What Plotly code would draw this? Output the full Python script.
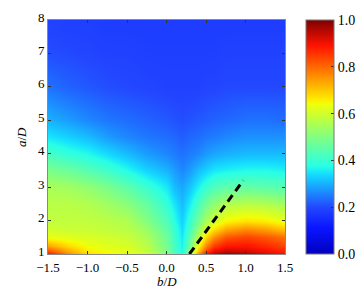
import plotly.graph_objects as go

# grid (b/D columns, a/D rows)
b_vals = [-1.5, -1.25, -1.0, -0.75, -0.5, -0.25, 0.0, 0.1, 0.2, 0.3, 0.4, 0.5, 0.6, 0.75, 1.0, 1.25, 1.5]
a_vals = [1.0, 1.1, 1.25, 1.5, 1.75, 2.0, 2.5, 3.0, 3.5, 4.0, 4.5, 5.0, 6.0, 7.0, 8.0]
z_vals = [
    [0.90, 0.77, 0.68, 0.65, 0.63, 0.60, 0.50, 0.43, 0.37, 0.55, 0.76, 0.90, 0.96, 0.99, 0.97, 0.93, 0.89],
    [0.83, 0.73, 0.66, 0.64, 0.62, 0.58, 0.49, 0.42, 0.37, 0.52, 0.70, 0.84, 0.91, 0.94, 0.93, 0.90, 0.87],
    [0.74, 0.68, 0.64, 0.62, 0.61, 0.57, 0.48, 0.42, 0.36, 0.49, 0.64, 0.77, 0.85, 0.89, 0.89, 0.87, 0.84],
    [0.63, 0.62, 0.61, 0.60, 0.59, 0.55, 0.47, 0.41, 0.35, 0.45, 0.57, 0.68, 0.76, 0.82, 0.84, 0.82, 0.79],
    [0.60, 0.59, 0.59, 0.58, 0.57, 0.53, 0.45, 0.40, 0.34, 0.42, 0.52, 0.61, 0.67, 0.73, 0.76, 0.74, 0.70],
    [0.58, 0.58, 0.58, 0.57, 0.56, 0.50, 0.43, 0.38, 0.33, 0.40, 0.48, 0.55, 0.60, 0.65, 0.67, 0.66, 0.63],
    [0.57, 0.57, 0.56, 0.54, 0.51, 0.46, 0.39, 0.35, 0.31, 0.36, 0.42, 0.48, 0.52, 0.56, 0.57, 0.56, 0.54],
    [0.55, 0.54, 0.52, 0.49, 0.45, 0.40, 0.35, 0.31, 0.29, 0.32, 0.36, 0.40, 0.43, 0.45, 0.46, 0.45, 0.44],
    [0.49, 0.47, 0.44, 0.41, 0.37, 0.33, 0.30, 0.28, 0.26, 0.28, 0.31, 0.33, 0.35, 0.36, 0.37, 0.37, 0.36],
    [0.42, 0.39, 0.37, 0.34, 0.31, 0.28, 0.26, 0.25, 0.24, 0.25, 0.26, 0.28, 0.29, 0.30, 0.31, 0.31, 0.31],
    [0.35, 0.33, 0.31, 0.28, 0.26, 0.245, 0.235, 0.23, 0.22, 0.23, 0.235, 0.245, 0.25, 0.26, 0.27, 0.27, 0.27],
    [0.30, 0.28, 0.26, 0.245, 0.235, 0.225, 0.215, 0.21, 0.205, 0.21, 0.215, 0.22, 0.225, 0.23, 0.24, 0.24, 0.235],
    [0.24, 0.225, 0.215, 0.205, 0.20, 0.195, 0.19, 0.19, 0.19, 0.19, 0.19, 0.195, 0.195, 0.20, 0.20, 0.20, 0.20],
    [0.205, 0.20, 0.195, 0.19, 0.19, 0.185, 0.185, 0.185, 0.185, 0.185, 0.185, 0.185, 0.185, 0.19, 0.19, 0.19, 0.19],
    [0.19, 0.185, 0.185, 0.18, 0.18, 0.18, 0.18, 0.18, 0.18, 0.18, 0.18, 0.18, 0.18, 0.18, 0.18, 0.18, 0.18],
]

# dashed guide line
line_b = [0.29, 0.97]
line_a = [1.0, 3.2]

x_ticks = [-1.5, -1.0, -0.5, 0.0, 0.5, 1.0, 1.5]
y_ticks = [1, 2, 3, 4, 5, 6, 7, 8]
cb_ticks = [0.0, 0.2, 0.4, 0.6, 0.8, 1.0]

# jet-like colour scale as rendered in the reference
colorscale = [
    [0.0, "rgb(0,0,190)"],
    [0.11, "rgb(10,20,255)"],
    [0.2, "rgb(35,72,255)"],
    [0.34, "rgb(20,220,255)"],
    [0.375, "rgb(40,255,230)"],
    [0.5, "rgb(130,255,130)"],
    [0.64, "rgb(240,255,10)"],
    [0.66, "rgb(255,236,0)"],
    [0.89, "rgb(255,19,0)"],
    [1.0, "rgb(127,0,0)"],
]

family = "Liberation Serif, Times New Roman, serif"
tick_font = dict(family=family, size=13, color="black")
title_font = dict(family=family, size=13, color="black")

fig = go.Figure()
fig.add_trace(go.Heatmap(
    x=b_vals, y=a_vals, z=z_vals, zmin=0, zmax=1, zsmooth="best",
    colorscale=colorscale,
    colorbar=dict(
        x=1.089, xanchor="left", y=0.5, yanchor="middle", len=1, lenmode="fraction",
        thickness=28, outlinecolor="#777", outlinewidth=1,
        tickvals=cb_ticks, tickformat=".1f", ticks="inside", ticklen=3,
        tickcolor="#333", tickfont=dict(family=family, size=14, color="black"),
        ypad=0, xpad=0,
    ),
))
fig.add_trace(go.Scatter(
    x=line_b, y=line_a, mode="lines",
    line=dict(color="black", width=3, dash="8px,5px"),
    showlegend=False, hoverinfo="skip",
))

axis_common = dict(
    showgrid=False, zeroline=False, showline=True, linecolor="#888", linewidth=1,
    mirror="ticks", ticks="inside", ticklen=3, tickcolor="#333", tickfont=tick_font,
)
fig.update_layout(
    width=364, height=288,
    margin=dict(l=40, r=87, t=12, b=42, autoexpand=False),
    paper_bgcolor="white", plot_bgcolor="white",
    font=tick_font, showlegend=False,
    xaxis=dict(range=[-1.5, 1.5], tickvals=x_ticks, tickformat=".1f",
               ticklabelstandoff=1, **axis_common),
    yaxis=dict(range=[1, 8], tickvals=y_ticks, ticklabelshift=-3, **axis_common),
    annotations=[
        dict(text="<i>b</i>/<i>D</i>", xref="paper", yref="paper", x=0.5, y=0,
             xanchor="center", yanchor="middle", yshift=-27, showarrow=False,
             font=title_font),
        dict(text="<i>a</i>/<i>D</i>", xref="paper", yref="paper", x=0, y=0.5,
             xanchor="center", yanchor="middle", xshift=-27, textangle=-90,
             showarrow=False, font=title_font),
    ],
)

fig.write_html("out.html")
